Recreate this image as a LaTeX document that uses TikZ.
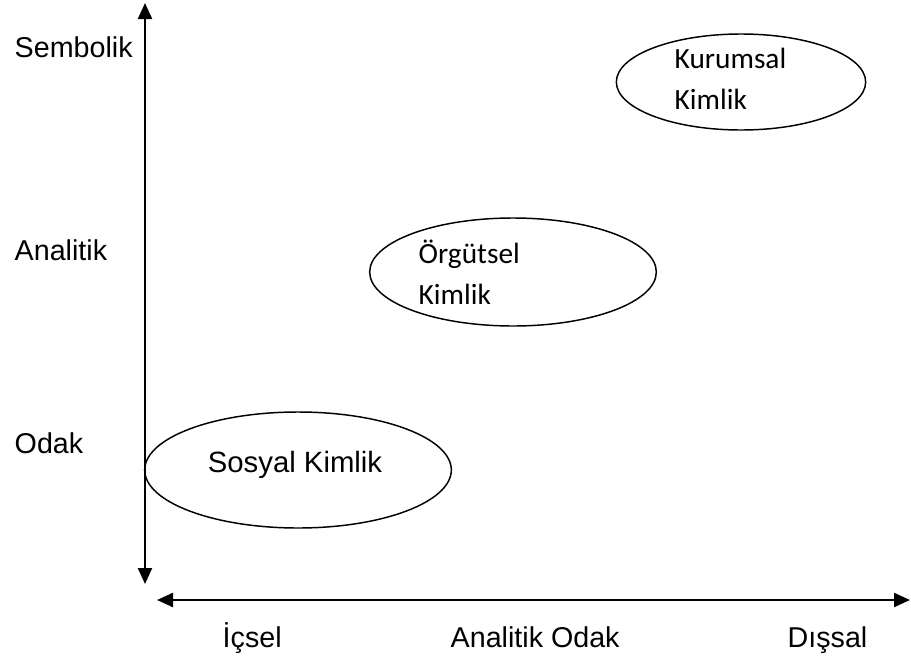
\documentclass[tikz,border=0pt]{standalone}
\usepackage{fontspec}
\setmainfont{Liberation Sans}
\newfontfamily\calfont{Carlito}
\usetikzlibrary{shapes.geometric,arrows.meta}

\tikzset{
    axislabel/.style={anchor=base west,font=\fontsize{21.5}{25}\selectfont},
    idellipse/.style={draw,ellipse,line width=1.1pt,inner sep=0pt},
    idtext/.style={anchor=west,align=left,font=\calfont\fontsize{22}{31}\selectfont},
    axis/.style={line width=1.7pt,{Triangle[width=10.5pt,length=12pt]}-{Triangle[width=10.5pt,length=12pt]}}
}

\begin{document}
\begin{tikzpicture}[x=0.75pt,y=-0.75pt]
        \useasboundingbox (0,0) rectangle (911,661);

        % Axes
        \coordinate (ytop) at (145,3);
        \coordinate (ybot) at (145,584);
        \coordinate (xleft) at (157,600);
        \coordinate (xright) at (910,600);
        \draw[axis] (ybot) -- (ytop);
        \draw[axis] (xleft) -- (xright);

        % Axis labels
        \node (Lsembolik) at (10,57)  [axislabel] {Sembolik};
        \node (Lanalitik) at (10,260) [axislabel] {Analitik};
        \node (Lodak)     at (10,453) [axislabel] {Odak};
        \node (Licsel)    at (218,647) [axislabel] {İçsel};
        \node (Lanodak)   at (446,647) [axislabel] {Analitik Odak};
        \node (Ldissal)   at (783,647) [axislabel] {Dışsal};

        % Identity ellipses
        \node (Ekurumsal) at (741,82)  [idellipse,minimum width=187pt,minimum height=72pt] {};
        \node (Eorgutsel) at (513,272) [idellipse,minimum width=215pt,minimum height=81pt] {};
        \node (Esosyal)   at (298,470) [idellipse,minimum width=230pt,minimum height=87pt] {};

        \node (Tkurumsal) at (670,79)  [idtext] {Kurumsal\\Kimlik};
        \node (Torgutsel) at (414,272) [idtext] {Örgütsel\\Kimlik};
        \node (Tsosyal)   at (295,465) [font=\fontsize{22}{25}\selectfont] {Sosyal Kimlik};
\end{tikzpicture}
\end{document}
